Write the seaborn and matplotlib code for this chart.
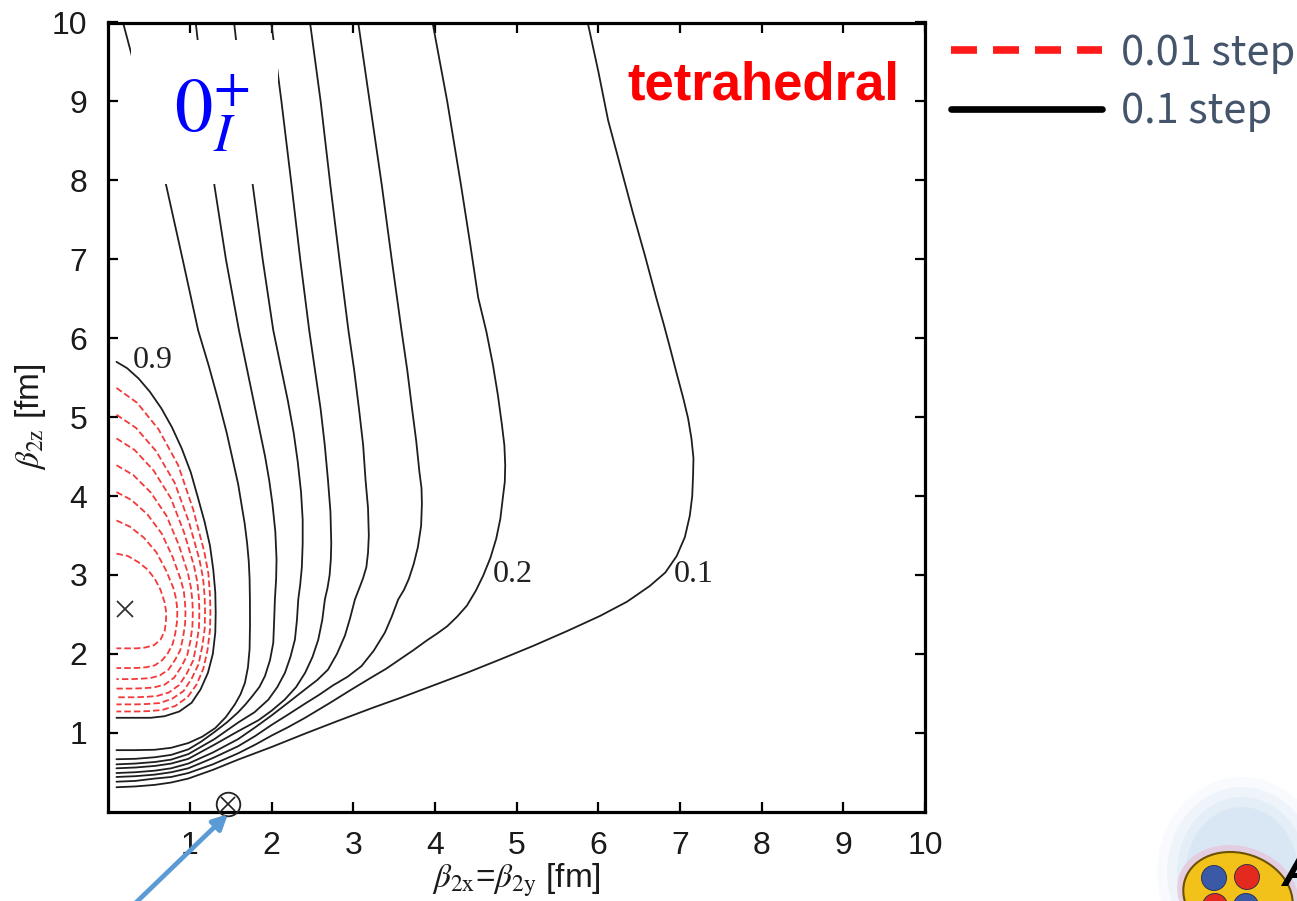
import matplotlib
matplotlib.use("Agg")
import matplotlib.pyplot as plt
import seaborn as sns
import pandas as pd
from matplotlib.lines import Line2D
from matplotlib.patches import Rectangle, Ellipse

# ---------------- data (beta_2x, beta_2z in fm) ----------------
# black contours, 0.1 step
c090_x = [0.10, 0.23, 0.37, 0.51, 0.65, 0.78, 0.90, 1.01, 1.10, 1.18, 1.245, 1.285, 1.31, 1.315,
          1.31, 1.28, 1.22, 1.13, 1.02, 0.87, 0.69, 0.52, 0.37, 0.10]
c090_y = [5.70, 5.62, 5.49, 5.32, 5.11, 4.87, 4.60, 4.30, 3.97, 3.67, 3.37, 3.07, 2.78, 2.52,
          2.27, 2.00, 1.76, 1.55, 1.38, 1.27, 1.21, 1.19, 1.19, 1.19]
c080_x = [0.18, 0.45, 0.71, 0.91, 1.10, 1.23, 1.35, 1.45, 1.53, 1.59, 1.63, 1.67, 1.70, 1.72, 1.73,
          1.734, 1.735, 1.73, 1.71, 1.673, 1.62, 1.55, 1.44, 1.31, 1.15, 0.98, 0.77, 0.57, 0.33, 0.10]
c080_y = [10.0, 8.95, 7.93, 7.00, 6.10, 5.65, 5.20, 4.80, 4.43, 4.15, 3.90, 3.65, 3.40, 3.17, 2.95,
          2.69, 2.37, 2.06, 1.83, 1.633, 1.49, 1.36, 1.20, 1.06, 0.95, 0.87, 0.81, 0.785, 0.78, 0.78]
c070_x = [1.07, 1.18, 1.30, 1.44, 1.60, 1.69, 1.78, 1.85, 1.92, 1.97, 2.01, 2.045, 2.06, 2.055, 2.04,
          2.03, 2.02, 1.98, 1.918, 1.85, 1.76, 1.68, 1.59, 1.45, 1.30, 1.14, 0.98, 0.77, 0.57, 0.33, 0.10]
c070_y = [10.0, 9.0, 7.93, 7.00, 6.10, 5.65, 5.20, 4.85, 4.50, 4.20, 3.90, 3.55, 3.20, 2.95, 2.69,
          2.40, 2.14, 1.92, 1.718, 1.58, 1.46, 1.36, 1.26, 1.13, 1.01, 0.89, 0.79, 0.72, 0.69, 0.67, 0.665]
c060_x = [1.54, 1.65, 1.77, 1.89, 2.02, 2.11, 2.20, 2.27, 2.32, 2.36, 2.38, 2.38, 2.37, 2.35, 2.326,
          2.31, 2.285, 2.23, 2.163, 2.07, 1.96, 1.79, 1.59, 1.30, 0.98, 0.77, 0.57, 0.33, 0.10]
c060_y = [10.0, 9.0, 7.93, 7.00, 6.10, 5.65, 5.20, 4.80, 4.43, 4.05, 3.70, 3.40, 3.10, 2.88, 2.69,
          2.43, 2.18, 1.96, 1.76, 1.58, 1.42, 1.26, 1.13, 0.92, 0.73, 0.66, 0.63, 0.61, 0.60]
c050_x = [1.995, 2.12, 2.245, 2.35, 2.46, 2.53, 2.60, 2.65, 2.69, 2.72, 2.73, 2.725, 2.71, 2.685,
          2.652, 2.62, 2.571, 2.50, 2.41, 2.30, 2.16, 2.00, 1.84, 1.59, 1.30, 0.98, 0.77, 0.57, 0.33, 0.10]
c050_y = [10.0, 9.0, 7.93, 7.00, 6.10, 5.60, 5.10, 4.65, 4.20, 3.80, 3.40, 3.20, 3.00, 2.84,
          2.69, 2.43, 2.18, 1.96, 1.76, 1.58, 1.42, 1.28, 1.16, 1.02, 0.85, 0.67, 0.61, 0.58, 0.56, 0.55]
c040_x = [2.47, 2.60, 2.72, 2.83, 2.94, 3.01, 3.07, 3.12, 3.15, 3.18, 3.19, 3.18, 3.16, 3.12, 3.08,
          3.02, 2.96, 2.897, 2.80, 2.69, 2.56, 2.41, 2.20, 2.00, 1.80, 1.59, 1.28, 0.98, 0.77, 0.57, 0.33, 0.10]
c040_y = [10.0, 9.0, 7.93, 7.00, 6.10, 5.60, 5.10, 4.65, 4.20, 3.85, 3.50, 3.28, 3.10, 2.96, 2.85,
          2.69, 2.45, 2.23, 2.00, 1.80, 1.67, 1.55, 1.38, 1.22, 1.07, 0.92, 0.75, 0.61, 0.55, 0.52, 0.50, 0.49]
c030_x = [3.06, 3.20, 3.35, 3.47, 3.59, 3.66, 3.72, 3.77, 3.81, 3.835, 3.84, 3.83, 3.79, 3.74, 3.68,
          3.62, 3.55, 3.47, 3.387, 3.25, 3.10, 2.93, 2.75, 2.58, 2.41, 2.20, 2.00, 1.80, 1.59, 1.28,
          0.98, 0.77, 0.57, 0.33, 0.10]
c030_y = [10.0, 9.0, 7.93, 7.00, 6.10, 5.60, 5.10, 4.70, 4.30, 4.10, 3.90, 3.62, 3.35, 3.14, 2.95,
          2.81, 2.69, 2.47, 2.27, 2.04, 1.845, 1.71, 1.60, 1.48, 1.37, 1.23, 1.10, 0.96, 0.83, 0.68,
          0.55, 0.50, 0.47, 0.45, 0.44]
c020_x = [3.97, 4.15, 4.32, 4.43, 4.53, 4.63, 4.71, 4.77, 4.82, 4.85, 4.86, 4.855, 4.83, 4.80, 4.75,
          4.68, 4.59, 4.50, 4.39, 4.27, 4.15, 4.03, 3.90, 3.74, 3.57, 3.40, 3.22, 2.98, 2.70, 2.41,
          2.20, 2.00, 1.80, 1.59, 1.28, 0.98, 0.77, 0.57, 0.33, 0.10]
c020_y = [10.0, 9.0, 7.93, 7.20, 6.51, 6.08, 5.66, 5.28, 4.90, 4.64, 4.39, 4.18, 3.97, 3.71, 3.46,
          3.22, 2.99, 2.80, 2.61, 2.47, 2.35, 2.26, 2.17, 2.05, 1.93, 1.81, 1.70, 1.55, 1.37, 1.19,
          1.07, 0.965, 0.85, 0.74, 0.60, 0.49, 0.44, 0.42, 0.39, 0.38]
c010_x = [5.87, 6.00, 6.12, 6.27, 6.42, 6.57, 6.71, 6.80, 6.88, 6.96, 7.04, 7.10, 7.14, 7.165, 7.16,
          7.15, 7.12, 7.06, 6.96, 6.82, 6.63, 6.35, 6.02, 5.62, 5.20, 4.80, 4.39, 3.98, 3.57, 3.22,
          2.81, 2.41, 2.00, 1.59, 1.28, 0.98, 0.77, 0.57, 0.33, 0.10]
c010_y = [10.0, 9.38, 8.76, 8.18, 7.60, 7.05, 6.51, 6.18, 5.87, 5.55, 5.24, 4.98, 4.73, 4.48, 4.26,
          4.00, 3.75, 3.48, 3.24, 3.03, 2.86, 2.66, 2.48, 2.29, 2.10, 1.93, 1.76, 1.60, 1.44, 1.31,
          1.15, 0.99, 0.82, 0.66, 0.53, 0.42, 0.37, 0.34, 0.32, 0.31]

# red dashed contours, 0.01 step
c091_x = [0.10, 0.352, 0.615, 0.856, 1.039, 1.176, 1.225, 1.245, 1.25, 1.245, 1.215, 1.165, 1.08,
          0.970, 0.82, 0.661, 0.50, 0.352, 0.10]
c091_y = [5.37, 5.182, 4.846, 4.390, 3.831, 3.290, 3.02, 2.748, 2.52, 2.30, 2.05, 1.814, 1.61,
          1.451, 1.34, 1.289, 1.275, 1.27, 1.27]
c092_x = [0.10, 0.338, 0.586, 0.813, 0.986, 1.115, 1.16, 1.18, 1.185, 1.18, 1.15, 1.104, 1.02,
          0.921, 0.78, 0.629, 0.48, 0.338, 0.10]
c092_y = [5.03, 4.864, 4.568, 4.167, 3.675, 3.198, 2.96, 2.721, 2.52, 2.316, 2.09, 1.865, 1.685,
          1.528, 1.43, 1.377, 1.365, 1.36, 1.36]
c093_x = [0.10, 0.322, 0.555, 0.767, 0.928, 1.049, 1.09, 1.11, 1.115, 1.11, 1.08, 1.039, 0.96,
          0.868, 0.74, 0.595, 0.46, 0.322, 0.10]
c093_y = [4.73, 4.584, 4.323, 3.970, 3.537, 3.117, 2.91, 2.697, 2.52, 2.332, 2.12, 1.915, 1.75,
          1.605, 1.51, 1.466, 1.455, 1.45, 1.45]
c094_x = [0.10, 0.305, 0.519, 0.714, 0.863, 0.974, 1.01, 1.03, 1.035, 1.03, 1.005, 0.965, 0.89,
          0.807, 0.69, 0.556, 0.43, 0.305, 0.10]
c094_y = [4.39, 4.267, 4.046, 3.747, 3.380, 3.025, 2.85, 2.670, 2.52, 2.351, 2.16, 1.978, 1.83,
          1.699, 1.61, 1.574, 1.565, 1.56, 1.56]
c095_x = [0.10, 0.285, 0.478, 0.654, 0.789, 0.890, 0.925, 0.94, 0.945, 0.94, 0.915, 0.881, 0.815,
          0.738, 0.63, 0.512, 0.40, 0.285, 0.10]
c095_y = [4.05, 3.949, 3.768, 3.524, 3.224, 2.933, 2.79, 2.642, 2.52, 2.372, 2.21, 2.045, 1.92,
          1.802, 1.725, 1.693, 1.685, 1.68, 1.68]
c096_x = [0.10, 0.263, 0.433, 0.588, 0.707, 0.796, 0.825, 0.84, 0.845, 0.84, 0.82, 0.788, 0.73,
          0.662, 0.57, 0.463, 0.36, 0.263, 0.10]
c096_y = [3.69, 3.613, 3.475, 3.288, 3.058, 2.836, 2.72, 2.614, 2.51, 2.397, 2.26, 2.124, 2.01,
          1.921, 1.855, 1.830, 1.822, 1.82, 1.82]
c097_x = [0.10, 0.24, 0.37, 0.48, 0.57, 0.64, 0.69, 0.71, 0.705, 0.69, 0.64, 0.56, 0.45, 0.35,
          0.25, 0.10]
c097_y = [3.27, 3.24, 3.16, 3.07, 2.95, 2.81, 2.65, 2.52, 2.40, 2.29, 2.18, 2.11, 2.08, 2.07,
          2.07, 2.07]

# contour labels
label_text = ["0.9", "0.2", "0.1"]
label_x = [0.30, 4.71, 6.92]
label_y = [5.72, 3.00, 3.00]

# markers
peak_x, peak_y = [0.204], [2.566]      # x : maximum
ref_x, ref_y = [1.47], [0.10]          # circled x on the axis

xticks = [1, 2, 3, 4, 5, 6, 7, 8, 9, 10]
yticks = [1, 2, 3, 4, 5, 6, 7, 8, 9, 10]
legend_labels = ["0.01 step", "0.1 step"]

# ---------------- build long tables ----------------
black = [("0.9", c090_x, c090_y), ("0.8", c080_x, c080_y), ("0.7", c070_x, c070_y),
         ("0.6", c060_x, c060_y), ("0.5", c050_x, c050_y), ("0.4", c040_x, c040_y),
         ("0.3", c030_x, c030_y), ("0.2", c020_x, c020_y), ("0.1", c010_x, c010_y)]
red = [("0.91", c091_x, c091_y), ("0.92", c092_x, c092_y), ("0.93", c093_x, c093_y),
       ("0.94", c094_x, c094_y), ("0.95", c095_x, c095_y), ("0.96", c096_x, c096_y),
       ("0.97", c097_x, c097_y)]


def table(items):
    parts = [pd.DataFrame({"b2x": xs, "b2z": ys, "level": lev}) for lev, xs, ys in items]
    return pd.concat(parts, ignore_index=True)


df_black = table(black)
df_red = table(red)

# ---------------- style ----------------
sns.set_theme(style="white")
plt.rcParams["font.family"] = ["Liberation Sans", "DejaVu Sans"]
plt.rcParams["mathtext.fontset"] = "stix"

W, H = 1297, 901
fig = plt.figure(figsize=(W / 100, H / 100), dpi=100)
fig.patch.set_facecolor("white")
x0, x1, ytop, ybot = 108.3, 925.0, 22.5, 811.7
ax = fig.add_axes([x0 / W, 1 - ybot / H, (x1 - x0) / W, (ybot - ytop) / H])
ax.set_facecolor("white")

sns.lineplot(data=df_black, x="b2x", y="b2z", units="level", estimator=None, sort=False,
             color="#1e1e1e", linewidth=1.3, ax=ax, legend=False, zorder=2)
sns.lineplot(data=df_red, x="b2x", y="b2z", units="level", estimator=None, sort=False,
             color="#f23a3a", linewidth=1.3, linestyle=(0, (3.6, 1.7)), ax=ax,
             legend=False, zorder=2)

ax.set_xlim(0, 10)
ax.set_ylim(0, 10)
ax.set_xticks(xticks)
ax.set_yticks(yticks)
ax.set_xticklabels([str(t) for t in xticks])
ax.set_yticklabels([str(t) for t in yticks])
for s in ax.spines.values():
    s.set_linewidth(2.3)
    s.set_color("black")
    s.set_visible(True)
ax.tick_params(axis="both", which="major", direction="in", length=7, width=1.6,
               color="black", top=True, right=True, bottom=True, left=True,
               labelsize=23, labelcolor="#1a1a1a")
ax.tick_params(axis="x", pad=14)
ax.tick_params(axis="y", pad=15)
ax.grid(False)

ax.set_xlabel(r"$\beta_{\mathrm{2x}}$=$\beta_{\mathrm{2y}}$ [fm]", fontsize=24,
              labelpad=0, color="#1a1a1a")
ax.set_ylabel(r"$\beta_{\mathrm{2z}}$ [fm]", fontsize=24, labelpad=3, color="#1a1a1a")

# contour labels
for t, lx, ly in zip(label_text, label_x, label_y):
    ax.text(lx, ly, t, fontsize=23, family="Liberation Serif", ha="left", va="center",
            color="#222222", zorder=4)

# markers
ax.plot(peak_x, peak_y, ls="none", marker="x", ms=12, mew=1.3, color="#333333", zorder=4)
ax.plot(ref_x, ref_y, ls="none", marker="o", ms=17, mfc="none", mec="#222222", mew=1.3,
        clip_on=False, zorder=6)
ax.plot(ref_x, ref_y, ls="none", marker="x", ms=10, mew=1.2, color="#222222",
        clip_on=False, zorder=6)

# white overlay box with state label
ax.add_patch(Rectangle((0.28, 7.95), 1.80, 1.83, facecolor="white", edgecolor="none",
                       zorder=3))
ax.text(0.80, 8.61, r"$0_{I}^{+}$", fontsize=55, color="#0000ff", ha="left",
        va="baseline", zorder=5)
ax.text(6.36, 9.03, "tetrahedral", fontsize=38, fontweight="bold", color="#ff0000",
        family="Liberation Sans", ha="left", va="baseline", zorder=5)

# arrow pointing at the circled marker
ax.annotate("", xy=(1.465, -0.03), xytext=(0.24, -1.25), xycoords="data",
            textcoords="data", annotation_clip=False,
            arrowprops=dict(arrowstyle="-|>", color="#5B9BD5", lw=3.4,
                            mutation_scale=22, shrinkA=0, shrinkB=0), zorder=7)

# legend outside the axes
handles = [Line2D([], [], color="#ff1a1a", lw=5.5, linestyle=(0, (3.4, 2.1))),
           Line2D([], [], color="black", lw=4.8)]
leg = ax.legend(handles, legend_labels, loc="upper left",
                bbox_to_anchor=(951 / W, 1 - 33 / H), bbox_transform=fig.transFigure,
                frameon=False, prop={"family": "Noto Sans CJK JP", "size": 30},
                handlelength=3.62, handletextpad=0.45, labelspacing=0.42,
                borderpad=0, borderaxespad=0, labelcolor="#44546A")


# decorative logo at the bottom-right corner
def fxy(px, py):
    return (px / W, 1 - py / H)


for w, h, a in [(170, 190, 0.10), (150, 170, 0.15), (130, 150, 0.2), (112, 130, 0.25)]:
    fig.add_artist(Ellipse(fxy(1242, 872), w / W, h / H, transform=fig.transFigure,
                           facecolor="#bcd6ec", edgecolor="none", alpha=a))
fig.add_artist(Ellipse(fxy(1238, 895), 118 / W, 102 / H, angle=20,
                       transform=fig.transFigure, facecolor="#e6c7dd", edgecolor="none",
                       alpha=0.8))
fig.add_artist(Ellipse(fxy(1238, 897), 106 / W, 92 / H, angle=20,
                       transform=fig.transFigure, facecolor="#f3c21a",
                       edgecolor="#6b5200", lw=1.5))
for cx, cy, col in [(1214, 878, "#3a5aa8"), (1247, 877, "#e42a1e"),
                    (1215, 906, "#e42a1e"), (1246, 906, "#3a5aa8")]:
    fig.add_artist(Ellipse(fxy(cx, cy), 25 / W, 25 / H, transform=fig.transFigure,
                           facecolor=col, edgecolor="#1d2a55", lw=0.6))
fig.text(1282 / W, 1 - 886 / H, "A", fontsize=34, fontweight="bold", style="italic",
         color="black", family="Liberation Sans")

fig.savefig("out.png", dpi=100, facecolor="white")
